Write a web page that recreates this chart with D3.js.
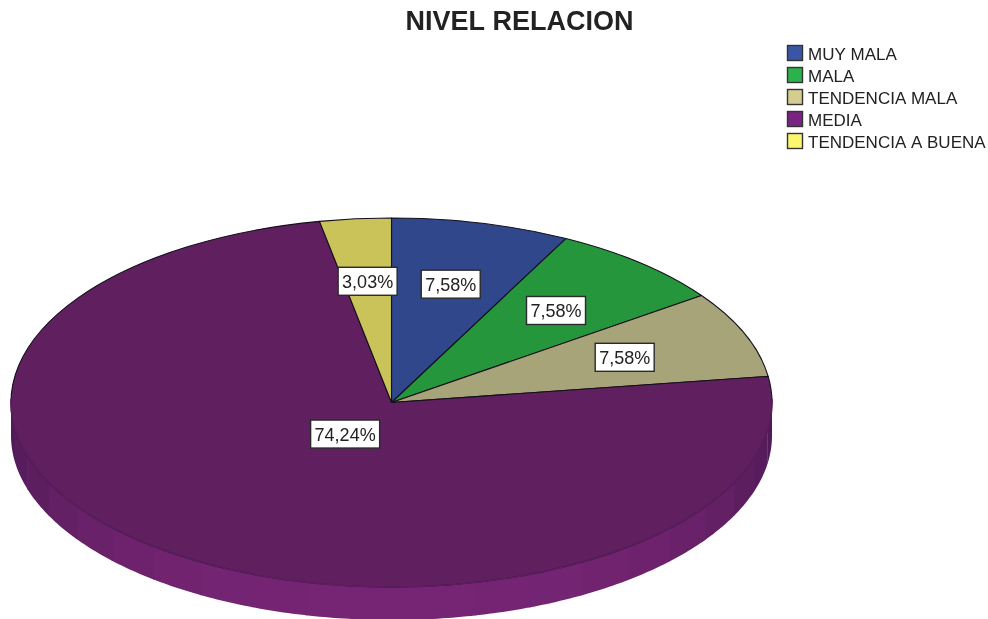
<!DOCTYPE html>
<html><head><meta charset="utf-8">
<script src="https://cdn.jsdelivr.net/npm/d3@7"></script>
<style>html,body{margin:0;padding:0;background:#fff}svg{display:block;filter:blur(0.45px)}text{font-family:"Liberation Sans",Arial,sans-serif;font-kerning:none}</style>
</head><body><svg id="c" width="988" height="619"></svg>
<script>
const title = "NIVEL RELACION";
const categories = ["MUY MALA","MALA","TENDENCIA MALA","MEDIA","TENDENCIA A BUENA"];
const values = [7.58,7.58,7.58,74.24,3.03];
const labels = ["7,58%","7,58%","7,58%","74,24%","3,03%"];
const labelRadius = [0.66,0.66,0.66,0.21,0.66];
const topColors = ["#31478c","#26963c","#a8a47a","#602060","#c9c35a"];
const legendColors = ["#3a55a5","#2bb24c","#d4cd8f","#7a2482","#fbf66e"];
const wallShades = ["#511b57","#571c5b","#5d1e60","#632065","#69216a","#6e226e","#712370","#732472","#742473","#752573","#752573","#752573","#742473","#732472","#712370","#6e226e","#69216a","#632065","#5d1e60","#571c5b","#511b57"];

const svg = d3.select("#c");
const cx = 391.5, cy = 402.5, rx = 380.5, ry = 184.5, depth = 33;
const pie = d3.pie().sort(null).value(d => d);
const arcs = pie(values);
const scaleY = ry / rx;

// front wall, stepped shading
const wallAngle = d3.scaleLinear().domain([0, wallShades.length]).range([Math.PI/2, 3*Math.PI/2]);
const wallLine = d3.line().x(d => cx + rx*Math.sin(d[0])).y(d => cy - ry*Math.cos(d[0]) + d[1]);
svg.append("g").selectAll("path").data(wallShades).join("path")
  .attr("d", (d,i) => {
    const a0 = wallAngle(i), a1 = wallAngle(i+1) + (i < wallShades.length-1 ? 0.004 : 0);
    const angs = d3.range(0, 13).map(k => a0 + (a1-a0)*k/12);
    return wallLine([...angs.map(a => [a,0]), ...angs.slice().reverse().map(a => [a,depth])]) + "Z";
  })
  .attr("fill", d => d);

// top face
const arcGen = d3.arc().innerRadius(0).outerRadius(rx);
const face = svg.append("g").attr("transform", `translate(${cx},${cy}) scale(1,${scaleY})`);
face.selectAll("path").data(arcs).join("path")
  .attr("d", arcGen)
  .attr("fill", (d,i) => topColors[i])
  .attr("stroke", "#14101c").attr("stroke-width", 1.1)
  .attr("stroke-linejoin", "round")
  .attr("vector-effect", "non-scaling-stroke");
// soften rim of the big slice against its wall
const rim = d3.arc().innerRadius(rx).outerRadius(rx);
face.append("path").datum({startAngle:Math.PI/2-0.02,endAngle:3*Math.PI/2+0.02})
  .attr("d", rim).attr("fill","none").attr("stroke","#5c1e5e").attr("stroke-width",1.6)
  .attr("vector-effect","non-scaling-stroke");

// value labels
const lg = svg.append("g");
arcs.forEach((a,i) => {
  const r = rx*labelRadius[i];
  const [mx,my] = d3.arc().innerRadius(r).outerRadius(r).centroid(a);
  const x = cx+mx, y = cy+my*scaleY;
  const w = labels[i].length > 5 ? 69 : 59, h = 28;
  lg.append("rect").attr("x",x-w/2).attr("y",y-h/2).attr("width",w).attr("height",h)
    .attr("fill","#fff").attr("stroke","#2a2a2a").attr("stroke-width",1.4);
  lg.append("text").attr("x",x).attr("y",y+6.5).attr("text-anchor","middle")
    .attr("font-size",18).attr("fill","#222").text(labels[i]);
});

// title
svg.append("text").attr("x",519.5).attr("y",30).attr("text-anchor","middle")
  .attr("font-size",27).attr("font-weight","bold").attr("fill","#222").text(title);

// legend
const rowY = d3.scalePoint().domain(categories).range([53,141]);
const leg = svg.append("g").selectAll("g").data(categories).join("g")
  .attr("transform", d => `translate(787,${rowY(d)})`);
leg.append("rect").attr("x",0.5).attr("y",-7.5).attr("width",15).attr("height",15)
  .attr("fill",(d,i)=>legendColors[i]).attr("stroke","#333").attr("stroke-width",1.4);
leg.append("text").attr("x",21).attr("y",7).attr("font-size",17).attr("fill","#222").text(d=>d);
</script></body></html>
